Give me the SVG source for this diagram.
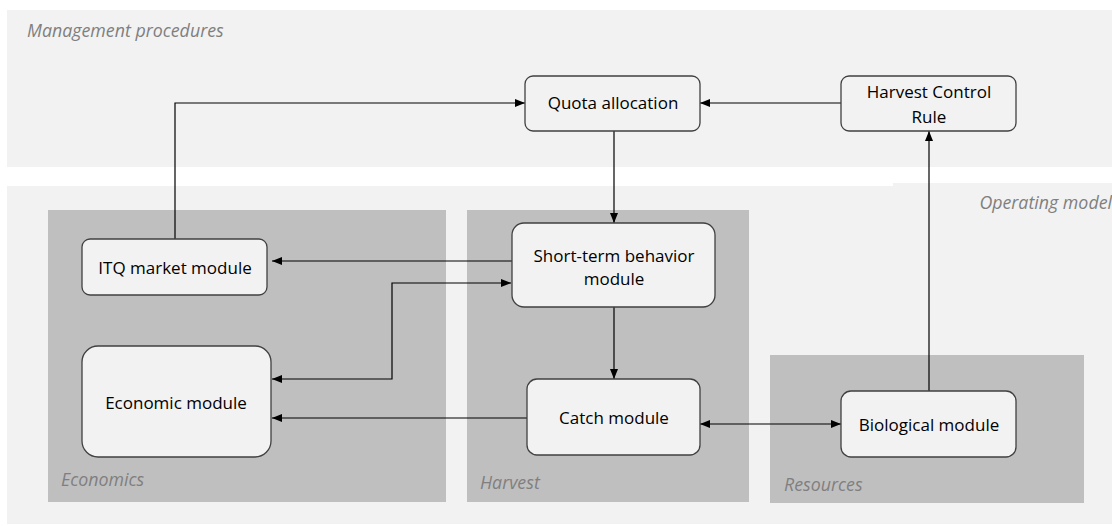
<svg xmlns="http://www.w3.org/2000/svg" width="1112" height="526" viewBox="0 0 1112 526">
<defs>
<marker id="ah" viewBox="0 0 10 10" refX="10" refY="5" markerWidth="10" markerHeight="10" markerUnits="userSpaceOnUse" orient="auto-start-reverse">
<path d="M0,1 L10,5 L0,9 Z" fill="#000"/>
</marker>
</defs>
<style>
.bg{fill:#f2f2f2}
.panel{fill:#bfbfbf}
.box{fill:#f2f2f2;stroke:#404040;stroke-width:1.3}
.t{font-family:"Open Sans","Liberation Sans",sans-serif;font-size:17px;fill:#000;text-anchor:middle}
.lbl{font-family:"Open Sans","Liberation Sans",sans-serif;font-size:17.8px;font-style:italic;fill:#7f7f7f}
.c{fill:none;stroke:#000;stroke-width:1.2}
</style>
<g id="backgrounds">
<rect class="bg" x="7" y="10" width="1105" height="157"/>
<rect class="bg" x="7" y="186" width="1105" height="338"/>
<rect class="bg" x="893" y="183" width="219" height="5"/>
<text class="lbl" x="27" y="37">Management procedures</text>
<text class="lbl" x="1112" y="209" text-anchor="end">Operating model</text>
</g>
<g id="panel-economics">
<rect class="panel" x="48" y="210" width="398" height="292"/>
<text class="lbl" x="61" y="486">Economics</text>
</g>
<g id="panel-harvest">
<rect class="panel" x="467" y="210" width="282" height="292"/>
<text class="lbl" x="480" y="489">Harvest</text>
</g>
<g id="panel-resources">
<rect class="panel" x="770" y="355" width="314" height="148"/>
<text class="lbl" x="784" y="491">Resources</text>
</g>
<g id="connectors">
<path class="c" d="M175,239 V103 H525" marker-end="url(#ah)"/>
<path class="c" d="M841,103 H700" marker-end="url(#ah)"/>
<path class="c" d="M614,131 V223" marker-end="url(#ah)"/>
<path class="c" d="M512,261 H272" marker-end="url(#ah)"/>
<path class="c" d="M272,379 H392 V283 H511" marker-start="url(#ah)" marker-end="url(#ah)"/>
<path class="c" d="M614,307 V379" marker-end="url(#ah)"/>
<path class="c" d="M527,418 H272" marker-end="url(#ah)"/>
<path class="c" d="M700,424 H841" marker-start="url(#ah)" marker-end="url(#ah)"/>
<path class="c" d="M929,391 V131" marker-end="url(#ah)"/>
</g>
<g id="quota">
<rect class="box" x="525" y="76" width="175" height="55" rx="8"/>
<text class="t" x="613" y="109">Quota allocation</text>
</g>
<g id="hcr">
<rect class="box" x="841" y="76" width="175" height="55" rx="8"/>
<text class="t" x="929" y="98">Harvest Control</text>
<text class="t" x="929" y="123">Rule</text>
</g>
<g id="itq">
<rect class="box" x="82" y="239" width="185" height="56" rx="8"/>
<text class="t" x="175" y="274">ITQ market module</text>
</g>
<g id="shortterm">
<rect class="box" x="512" y="223" width="203" height="84" rx="12"/>
<text class="t" x="614" y="262">Short-term behavior</text>
<text class="t" x="614" y="285">module</text>
</g>
<g id="economic">
<rect class="box" x="82" y="346" width="189" height="111" rx="16"/>
<text class="t" x="176" y="409">Economic module</text>
</g>
<g id="catch">
<rect class="box" x="527" y="379" width="173" height="76" rx="10"/>
<text class="t" x="614" y="424">Catch module</text>
</g>
<g id="biological">
<rect class="box" x="841" y="391" width="175" height="66" rx="10"/>
<text class="t" x="929" y="431">Biological module</text>
</g>
</svg>
